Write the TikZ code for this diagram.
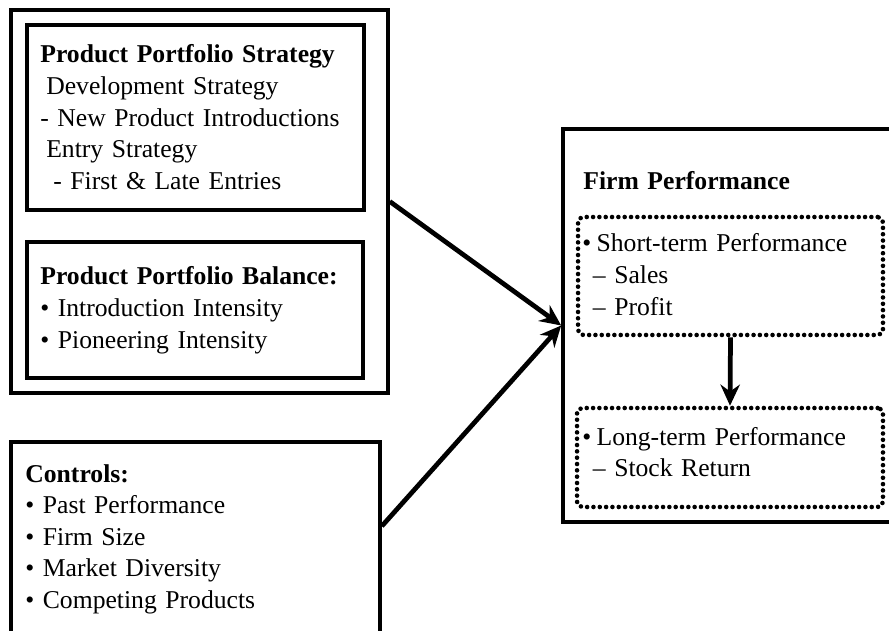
\documentclass[tikz,border=0pt]{standalone}
\usepackage{fontspec}
\setmainfont{Liberation Serif}
\usetikzlibrary{arrows.meta, positioning}

\begin{document}
\begin{tikzpicture}[
  x=0.02cm, y=-0.02cm,
  framebox/.style={draw, line width=2.1pt, inner sep=0pt},
  dotbox/.style={draw, line width=2.6pt, dash pattern=on 0pt off 3.6pt, line cap=round, rounded corners=3pt, inner sep=0pt},
  boxtext/.style={anchor=base west, align=left, text width=7cm, inner sep=0pt, font=\fontsize{14.6}{18}\selectfont},
  link/.style={line width=2.7pt, -{Stealth[length=12pt, width=11pt]}}
]
\clip (0,0) rectangle (889,631);

% left group
\node[framebox, minimum width=7.54cm, minimum height=7.66cm] (grp) at (199.5,201.5) {};
\node[framebox, minimum width=6.74cm, minimum height=3.70cm] (strat) at (195.5,117.5) {};
\node[framebox, minimum width=6.72cm, minimum height=2.72cm] (bal) at (195,310) {};
\node[framebox, minimum width=7.38cm, minimum height=4.40cm] (ctrl) at (195.5,552) {};

% right group
\node[framebox, minimum width=6.64cm, minimum height=7.86cm] (firm) at (729,325.5) {};
\node[dotbox, minimum width=6.10cm, minimum height=2.36cm] (st) at (730.5,276) {};
\node[dotbox, minimum width=6.12cm, minimum height=1.98cm] (lt) at (730,457.5) {};

% texts
\node[boxtext] (stratTxt) at (40,63) {\textbf{Product Portfolio Strategy}\\
  \hspace*{3.4pt}Development Strategy\\
  - New Product Introductions\\
  \hspace*{3.4pt}Entry Strategy\\
  \hspace*{7.4pt}- First \& Late Entries};
\node[boxtext] (balTxt) at (40,285) {\textbf{Product Portfolio Balance:}\\
  • Introduction Intensity\\
  • Pioneering Intensity};
\node[boxtext] (ctrlTxt) at (25,482) {\textbf{Controls:}\\
  • Past Performance\\
  • Firm Size\\
  • Market Diversity\\
  • Competing Products};
\node[boxtext] (firmTxt) at (583,190) {\textbf{Firm Performance}};
\node[boxtext] (stTxt) at (582,252) {•\hspace{3pt}Short-term Performance\\
  \hspace*{6pt}– Sales\\
  \hspace*{6pt}– Profit};
\node[boxtext] (ltTxt) at (582,445) {•\hspace{3pt}Long-term Performance\\
  \hspace*{6pt}– Stock Return};

% arrows
\draw[link] (grp.east) -- (firm.west);
\draw[link] ([yshift=-1.72cm]ctrl.north east) -- (firm.west);
\draw[link] (st.south) -- (lt.north);

\end{tikzpicture}
\end{document}
